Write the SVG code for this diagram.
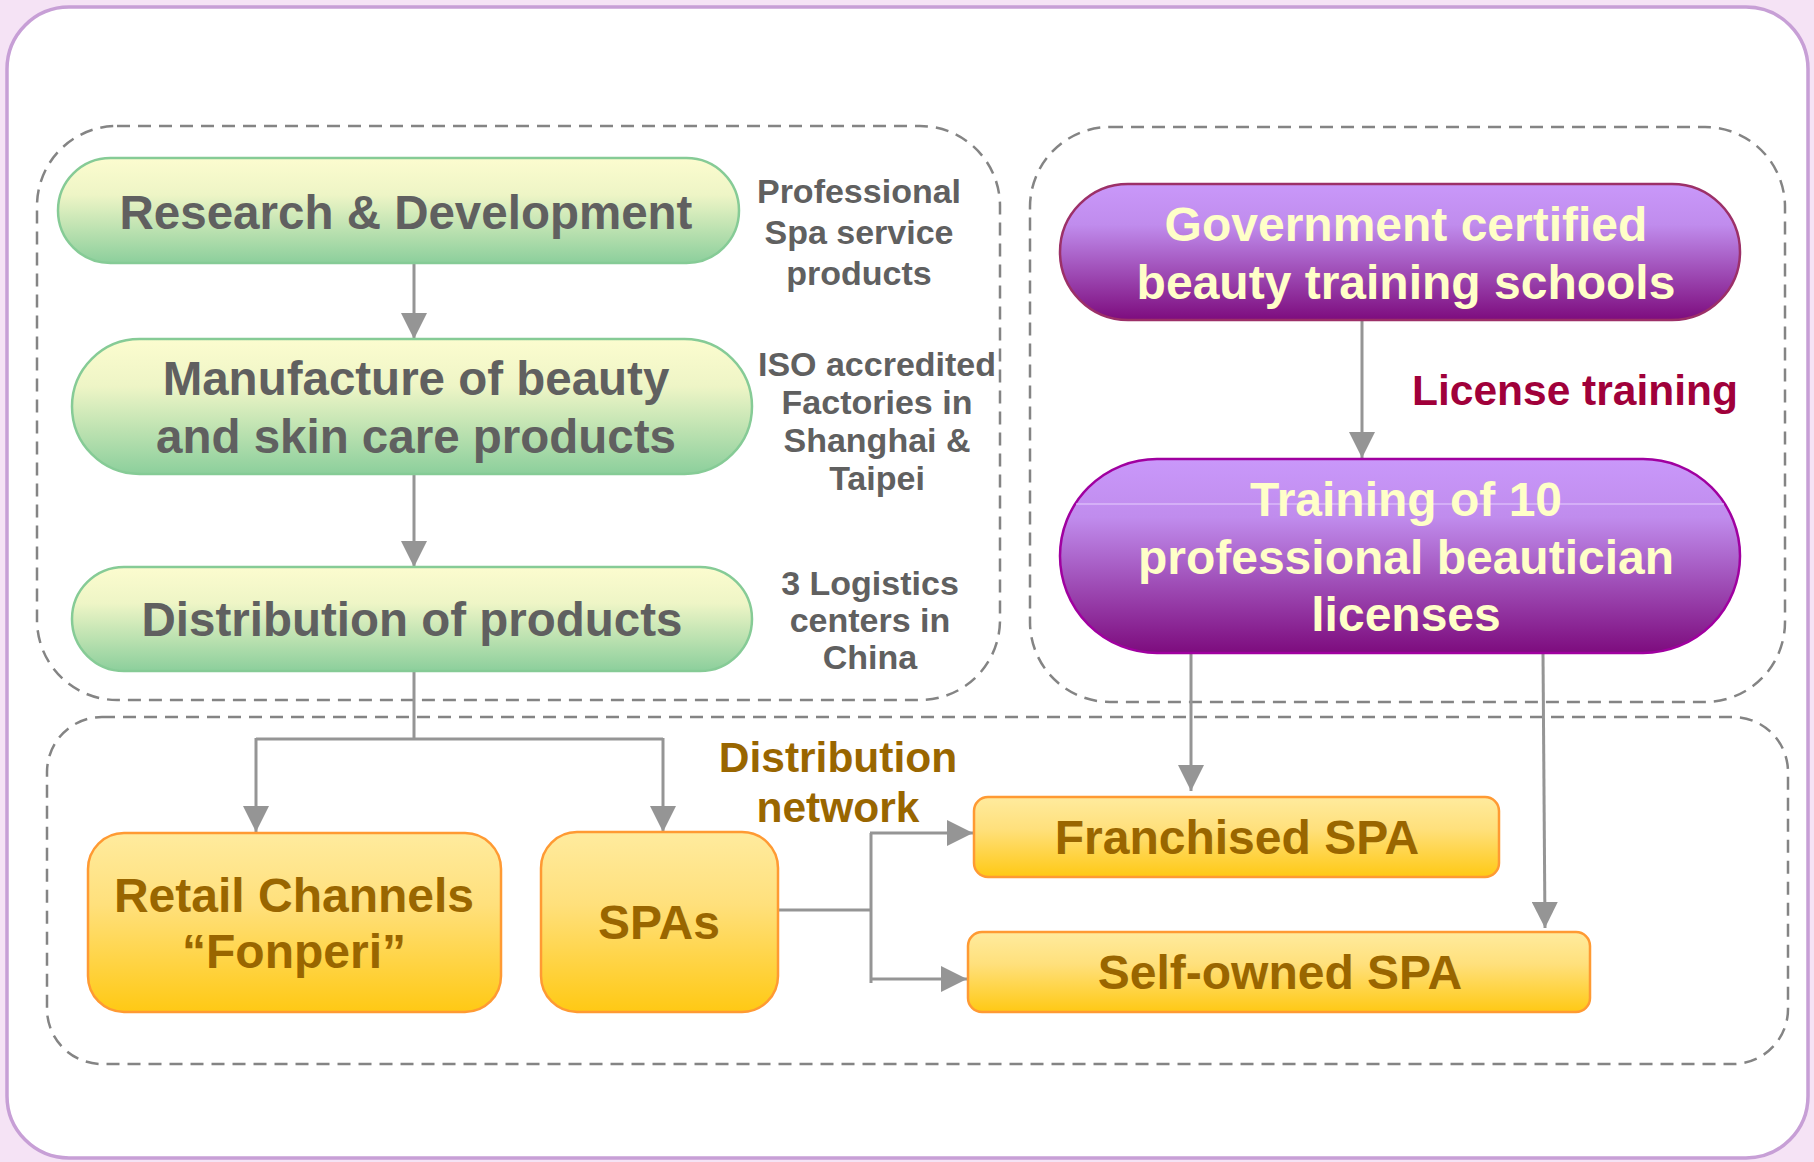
<svg xmlns="http://www.w3.org/2000/svg" width="1814" height="1162" viewBox="0 0 1814 1162">
<defs>
<linearGradient id="gGreen" x1="0" y1="0" x2="0" y2="1">
<stop offset="0" stop-color="#fcfccf"/><stop offset="0.35" stop-color="#eef5c6"/><stop offset="1" stop-color="#8ccf9c"/>
</linearGradient>
<linearGradient id="gPurple" x1="0" y1="0" x2="0" y2="1">
<stop offset="0" stop-color="#c998fa"/><stop offset="0.3" stop-color="#c08ced"/><stop offset="1" stop-color="#7d0c7e"/>
</linearGradient>
<linearGradient id="gYellow" x1="0" y1="0" x2="0" y2="1">
<stop offset="0" stop-color="#ffeb9e"/><stop offset="0.4" stop-color="#ffe07c"/><stop offset="1" stop-color="#ffc914"/>
</linearGradient>
<marker id="arr" viewBox="0 0 26 26" refX="26" refY="13" markerWidth="26" markerHeight="26" markerUnits="userSpaceOnUse" orient="auto">
<path d="M0,0 L26,13 L0,26 z" fill="#959595"/>
</marker>
</defs>
<style>
text{font-family:"Liberation Sans",Arial,sans-serif;font-weight:bold;text-anchor:middle}
.grp{fill:none;stroke:#848484;stroke-width:2.5;stroke-dasharray:13 8}
.green{fill:url(#gGreen);stroke:#86cb96;stroke-width:2.5}
.purple{fill:url(#gPurple);stroke-width:2.5}
.yellow{fill:url(#gYellow);stroke:#ff9a33;stroke-width:2.5}
.tg{fill:#606060;font-size:47.5px}
.ts{fill:#606060;font-size:34px}
.tp{fill:#ffffc8;font-size:48px}
.ty{fill:#996600;font-size:48px}
.tn{fill:#996600;font-size:42.5px}
.con{fill:none;stroke:#959595;stroke-width:3}
</style>
<rect x="0" y="0" width="1814" height="1162" fill="#f5e3f5"/>
<rect x="7" y="7" width="1801" height="1151" rx="62" fill="#ffffff" stroke="#c79fd6" stroke-width="3.5"/>

<g id="groups">
<rect class="grp" x="37" y="126" width="963" height="574" rx="80"/>
<rect class="grp" x="1030" y="127" width="755" height="575" rx="80"/>
<rect class="grp" x="47" y="717" width="1741" height="347" rx="55"/>
</g>

<g id="connectors">
<path class="con" d="M414,263 L414,339" marker-end="url(#arr)"/>
<path class="con" d="M414,474 L414,567" marker-end="url(#arr)"/>
<path class="con" d="M414,671 L414,739"/>
<path class="con" d="M256,739 L663,739"/>
<path class="con" d="M256,738 L256,832" marker-end="url(#arr)"/>
<path class="con" d="M663,738 L663,832" marker-end="url(#arr)"/>
<path class="con" d="M1362,320 L1362,458" marker-end="url(#arr)"/>
<path class="con" d="M1191,653 L1191,791" marker-end="url(#arr)"/>
<path class="con" d="M1543,653 L1545,928" marker-end="url(#arr)"/>
<path class="con" d="M778,910 L871,910"/>
<path class="con" d="M871,833 L871,983"/>
<path class="con" d="M870,833 L973,833" marker-end="url(#arr)"/>
<path class="con" d="M870,979 L967,979" marker-end="url(#arr)"/>
</g>

<g id="node-rd">
<rect class="green" x="58" y="158" width="681" height="105" rx="52.5"/>
<text class="tg" x="406" y="229">Research &amp; Development</text>
</g>
<g id="node-manufacture">
<rect class="green" x="72" y="339" width="680" height="135" rx="67.5"/>
<text class="tg" x="416" y="395">Manufacture of beauty</text>
<text class="tg" x="416" y="453">and skin care products</text>
</g>
<g id="node-distribution">
<rect class="green" x="72" y="567" width="680" height="104" rx="52"/>
<text class="tg" x="412" y="636">Distribution of products</text>
</g>

<g id="note-rd">
<text class="ts" x="859" y="203">Professional</text>
<text class="ts" x="859" y="244">Spa service</text>
<text class="ts" x="859" y="285">products</text>
</g>
<g id="note-manufacture">
<text class="ts" x="877" y="376">ISO accredited</text>
<text class="ts" x="877" y="414">Factories in</text>
<text class="ts" x="877" y="452">Shanghai &amp;</text>
<text class="ts" x="877" y="490">Taipei</text>
</g>
<g id="note-distribution">
<text class="ts" x="870" y="595">3 Logistics</text>
<text class="ts" x="870" y="632">centers in</text>
<text class="ts" x="870" y="669">China</text>
</g>

<g id="node-government">
<rect class="purple" stroke="#9c3068" x="1060" y="184" width="680" height="136" rx="68"/>
<text class="tp" x="1406" y="241">Government certified</text>
<text class="tp" x="1406" y="299">beauty training schools</text>
</g>
<g id="label-license">
<text x="1412" y="405" style="text-anchor:start;font-size:42.5px;fill:#a0003a">License training</text>
</g>
<g id="node-training">
<rect class="purple" stroke="#a000a0" x="1060" y="459" width="680" height="194" rx="97"/>
<line x1="1076" y1="504" x2="1724" y2="504" stroke="#e6ccff" stroke-width="1.5" opacity="0.7"/>
<text class="tp" x="1406" y="516">Training of 10</text>
<text class="tp" x="1406" y="574">professional beautician</text>
<text class="tp" x="1406" y="631">licenses</text>
</g>

<g id="label-network">
<text class="tn" x="838" y="772">Distribution</text>
<text class="tn" x="838" y="822">network</text>
</g>

<g id="node-retail">
<rect class="yellow" x="88" y="833" width="413" height="179" rx="36"/>
<text class="ty" x="294" y="912">Retail Channels</text>
<text class="ty" x="294" y="968">“Fonperi”</text>
</g>
<g id="node-spas">
<rect class="yellow" x="541" y="832" width="237" height="180" rx="36"/>
<text class="ty" x="659" y="939">SPAs</text>
</g>
<g id="node-franchised">
<rect class="yellow" x="974" y="797" width="525" height="80" rx="14"/>
<text class="ty" x="1237" y="854">Franchised SPA</text>
</g>
<g id="node-selfowned">
<rect class="yellow" x="968" y="932" width="622" height="80" rx="14"/>
<text class="ty" x="1280" y="989">Self-owned SPA</text>
</g>
</svg>
